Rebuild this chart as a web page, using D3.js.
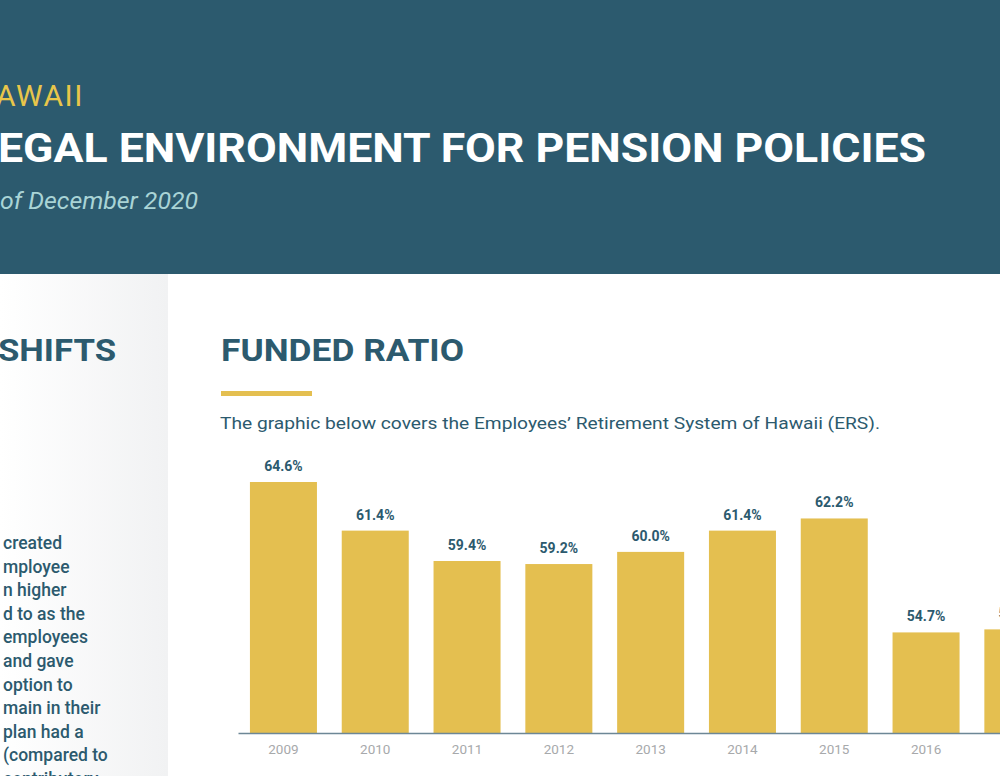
<!DOCTYPE html>
<html><head><meta charset="utf-8">
<script src="https://cdn.jsdelivr.net/npm/d3@7"></script>
<style>body{margin:0;overflow:hidden;background:#fff}svg{display:block;font-family:Roboto,sans-serif}</style>
</head><body><div id="container"></div>
<script>
const YEARS = ["2009","2010","2011","2012","2013","2014","2015","2016","2017"];
const RATIOS = [64.6, 61.4, 59.4, 59.2, 60.0, 61.4, 62.2, 54.7, 54.9];
const SIDE_LINES = ["created","mployee","n higher","d to as the","employees"," and gave","option to","main in their"," plan had a","(compared to","contributory"];

var TEAL = "#2c5a6e", GOLD = "#e4bf50";
var svg = d3.select("#container").append("svg").attr("width",1000).attr("height",776);

// header
svg.append("rect").attr("width",1000).attr("height",274).attr("fill",TEAL);
svg.append("text").attr("x",-4).attr("y",106).attr("fill","#e8c64a").attr("font-size",30)
  .attr("letter-spacing",1.5).text("AWAII");
svg.append("text").attr("x",-2).attr("y",162).attr("fill","#fff").attr("font-size",40).attr("font-weight",700)
  .attr("textLength",928).attr("lengthAdjust","spacingAndGlyphs").text("EGAL ENVIRONMENT FOR PENSION POLICIES");
svg.append("text").attr("x",0).attr("y",209).attr("fill","#a9d4d6").attr("font-size",24).attr("font-style","italic")
  .attr("textLength",198).attr("lengthAdjust","spacingAndGlyphs").text("of December 2020");

// left panel
var g = svg.append("defs").append("linearGradient").attr("id","lg");
g.append("stop").attr("offset","0").attr("stop-color","#ffffff");
g.append("stop").attr("offset","1").attr("stop-color","#f1f2f3");
svg.append("rect").attr("y",274).attr("width",168).attr("height",502).attr("fill","url(#lg)");
svg.append("text").attr("x",-2).attr("y",361).attr("fill",TEAL).attr("font-size",32).attr("font-weight",700)
  .attr("textLength",118).attr("lengthAdjust","spacingAndGlyphs").text("SHIFTS");
svg.selectAll(".side").data(SIDE_LINES).enter().append("text")
  .attr("x",3).attr("y",function(d,i){ return 549 + i*23.6; })
  .attr("fill",TEAL).attr("font-size",17.5).attr("font-weight",500).text(function(d){ return d; });

// section heading
svg.append("text").attr("x",221).attr("y",361).attr("fill",TEAL).attr("font-size",32).attr("font-weight",700)
  .attr("textLength",243).attr("lengthAdjust","spacingAndGlyphs").text("FUNDED RATIO");
svg.append("rect").attr("x",221).attr("y",391).attr("width",91).attr("height",5).attr("fill",GOLD);
svg.append("text").attr("x",220).attr("y",429).attr("fill",TEAL).attr("font-size",17)
  .attr("textLength",660).attr("lengthAdjust","spacingAndGlyphs")
  .text("The graphic below covers the Employees\u2019 Retirement System of Hawaii (ERS).");

// chart
var x = d3.scaleBand().domain(YEARS).range([238, 238 + 91.7*YEARS.length]).paddingInner(0.27).paddingOuter(0.13);
var y = d3.scaleLinear().domain([48.08, 64.6]).range([733, 482]);

svg.selectAll(".bar").data(RATIOS).enter().append("rect")
  .attr("x",function(d,i){ return x(YEARS[i]); }).attr("width",x.bandwidth())
  .attr("y",function(d){ return y(d); }).attr("height",function(d){ return 733 - y(d); })
  .attr("fill",GOLD);
svg.selectAll(".lbl").data(RATIOS).enter().append("text")
  .attr("x",function(d,i){ return x(YEARS[i]) + x.bandwidth()/2; })
  .attr("y",function(d){ return y(d) - 11; }).attr("text-anchor","middle")
  .attr("fill",TEAL).attr("font-size",14).attr("font-weight",700)
  .text(function(d){ return d.toFixed(1) + "%"; });

var ax = svg.append("g").attr("transform","translate(0,733)").call(d3.axisBottom(x).tickSize(0).tickPadding(11));
ax.select(".domain").attr("stroke","#6d8796").attr("stroke-width",1.5);
ax.selectAll("text").attr("fill","#a7a9ab").attr("font-size",13.5).attr("font-family","Roboto,sans-serif");
</script></body></html>
